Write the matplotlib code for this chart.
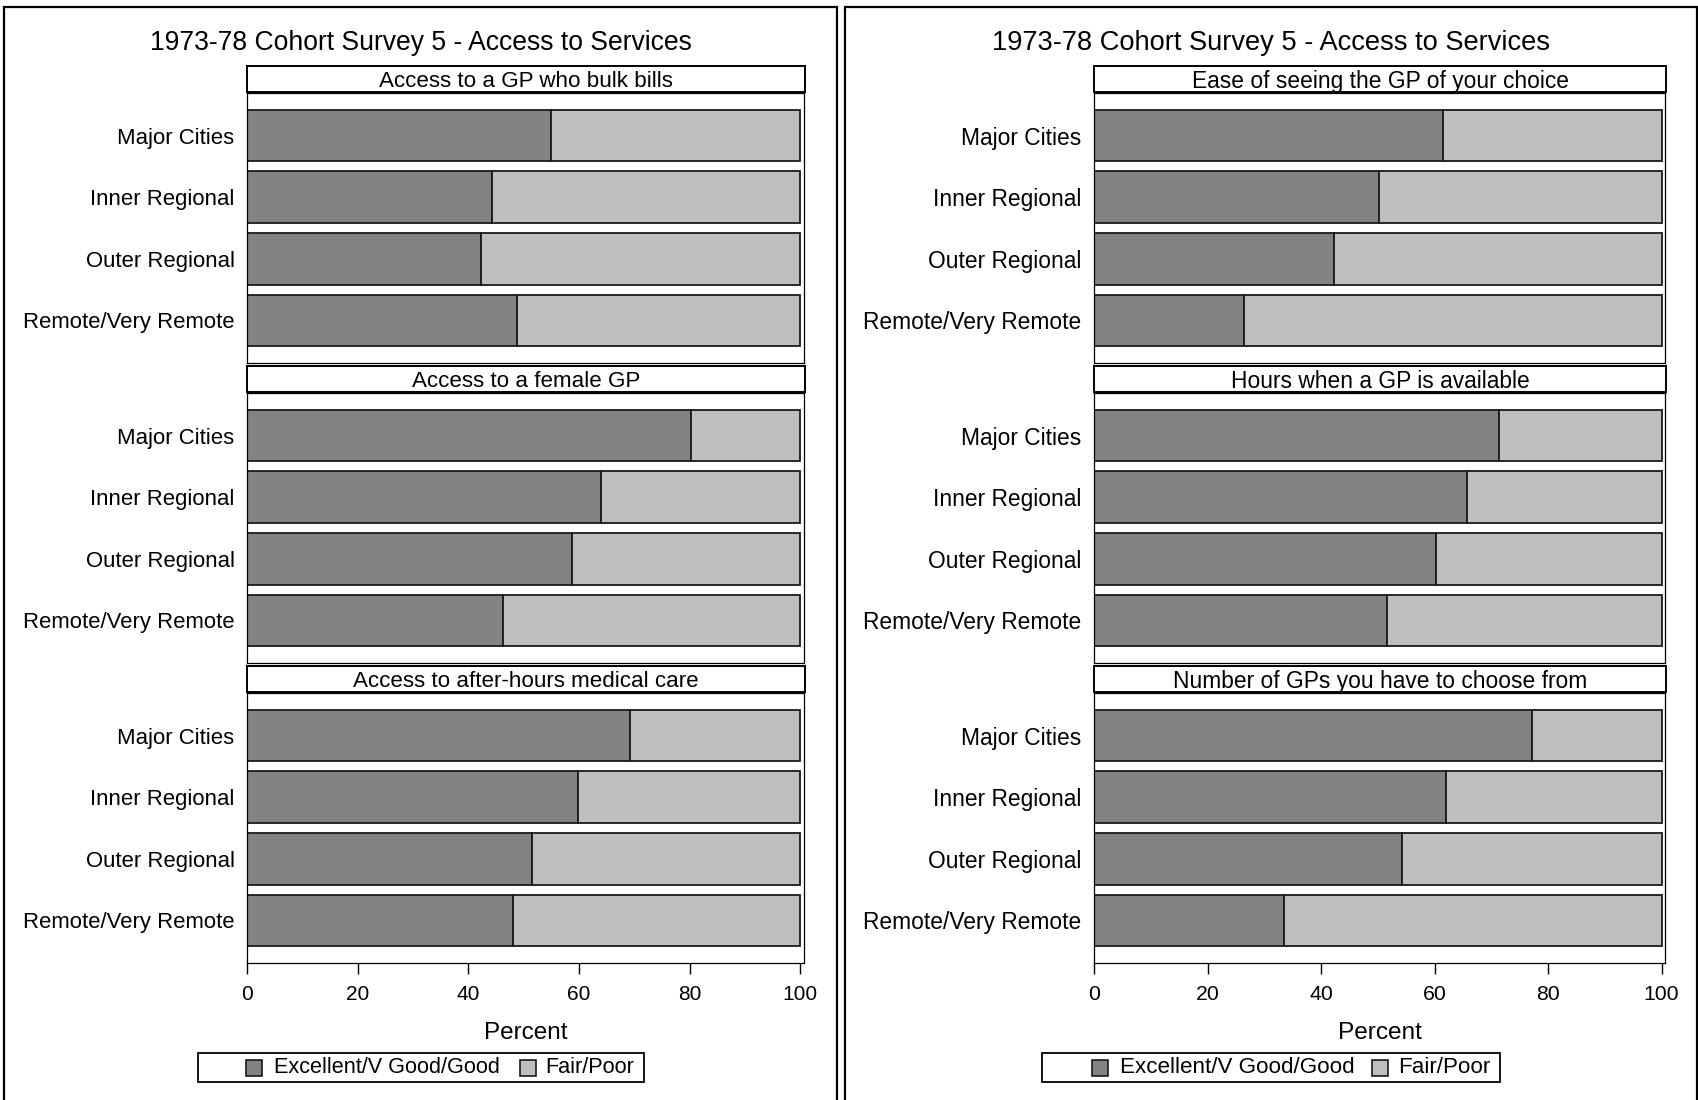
import matplotlib
matplotlib.use("Agg")
import matplotlib.pyplot as plt
from matplotlib.patches import Rectangle
import numpy as np

plt.rcParams['font.family'] = ['Liberation Sans', 'DejaVu Sans']

# ---------------- data ----------------
regions = ["Major Cities", "Inner Regional", "Outer Regional", "Remote/Very Remote"]
series_names = ["Excellent/V Good/Good", "Fair/Poor"]
main_title = "1973-78 Cohort Survey 5 - Access to Services"
x_ticks = [0, 20, 40, 60, 80, 100]
x_label = "Percent"

left_titles = ["Access to a GP who bulk bills",
               "Access to a female GP",
               "Access to after-hours medical care"]
right_titles = ["Ease of seeing the GP of your choice",
                "Hours when a GP is available",
                "Number of GPs you have to choose from"]

bulk_bills_good = [55.0, 44.3, 42.3, 48.8]
bulk_bills_fair = [45.0, 55.7, 57.7, 51.2]
female_gp_good = [80.3, 64.0, 58.7, 46.3]
female_gp_fair = [19.7, 36.0, 41.3, 53.7]
after_hours_good = [69.2, 59.8, 51.6, 48.0]
after_hours_fair = [30.8, 40.2, 48.4, 52.0]

gp_choice_good = [61.5, 50.2, 42.2, 26.5]
gp_choice_fair = [38.5, 49.8, 57.8, 73.5]
gp_hours_good = [71.4, 65.7, 60.2, 51.7]
gp_hours_fair = [28.6, 34.3, 39.8, 48.3]
num_gps_good = [77.2, 62.0, 54.3, 33.4]
num_gps_fair = [22.8, 38.0, 45.7, 66.6]

left_data = [(bulk_bills_good, bulk_bills_fair),
             (female_gp_good, female_gp_fair),
             (after_hours_good, after_hours_fair)]
right_data = [(gp_choice_good, gp_choice_fair),
              (gp_hours_good, gp_hours_fair),
              (num_gps_good, num_gps_fair)]

# ---------------- style ----------------
W, H = 1698, 1100
DARK = "#838383"
LIGHT = "#bebebe"
EDGE = "#1a1a1a"

fig = plt.figure(figsize=(W / 100, H / 100), dpi=100)
fig.patch.set_facecolor("white")


def fbox(x0, y_top, x1, y_bot):
    return [x0 / W, 1 - y_bot / H, (x1 - x0) / W, (y_bot - y_top) / H]


def fx(x):
    return x / W


def fy(y):
    return 1 - y / H


strip_tops = [66, 366, 666]
STRIP_H = 26
PLOT_H = 270

panels = [
    dict(frame=(4, 837), plot_x=(247, 803.5), titles=left_titles, data=left_data,
         fs=dict(title=19.1, strip=16.1, cat=15.9, tick=15.0, xlab=17.5, leg=15.6),
         leg=dict(width=446, sq1=48, t1=76, sq2=322, t2=348)),
    dict(frame=(845, 1697), plot_x=(1094, 1665), titles=right_titles, data=right_data,
         fs=dict(title=19.6, strip=16.4, cat=16.4, tick=15.3, xlab=17.6, leg=16.1),
         leg=dict(width=458, sq1=50, t1=78, sq2=330, t2=356)),
]

ypos = np.arange(len(regions))

for p in panels:
    fs = p["fs"]
    fl, fr = p["frame"]
    # outer frame (extends below image bottom)
    fig.add_artist(Rectangle((fx(fl), fy(1110)), fx(fr) - fx(fl), fy(6.5) - fy(1110),
                             transform=fig.transFigure, fill=False,
                             edgecolor="black", linewidth=1.6))
    cx = (fl + fr) / 2
    fig.text(fx(cx), fy(43.5), main_title, ha="center", va="center", fontsize=fs["title"])

    px0, px1 = p["plot_x"]
    for i, (title, (good, fair)) in enumerate(zip(p["titles"], p["data"])):
        st = strip_tops[i]
        sax = fig.add_axes(fbox(px0, st, px1 + 1, st + STRIP_H))
        sax.set_xticks([])
        sax.set_yticks([])
        for s in sax.spines.values():
            s.set_linewidth(1.4)
        sax.text(0.5, 0.41, title, ha="center", va="center", fontsize=fs["strip"],
                 transform=sax.transAxes)

        ax = fig.add_axes(fbox(px0, st + STRIP_H + 1, px1, st + STRIP_H + 1 + PLOT_H))
        ax.barh(ypos, good, height=0.84, color=DARK, edgecolor=EDGE, linewidth=1.3)
        ax.barh(ypos, fair, left=good, height=0.84, color=LIGHT, edgecolor=EDGE, linewidth=1.3)
        ax.set_xlim(0, 100.6)
        ax.set_ylim(3.69, -0.69)
        ax.set_yticks(ypos)
        ax.set_yticklabels(regions, fontsize=fs["cat"])
        ax.tick_params(axis="y", length=0, pad=9)
        for s in ax.spines.values():
            s.set_linewidth(0.9)
        if i == 2:
            ax.set_xticks(x_ticks)
            ax.set_xticklabels([str(t) for t in x_ticks], fontsize=fs["tick"])
            ax.tick_params(axis="x", length=8, width=1.0, pad=7.5)
            ax.set_xlabel(x_label, fontsize=fs["xlab"], labelpad=13)
        else:
            ax.set_xticks([])

    # legend drawn in figure pixel space
    lg = p["leg"]
    lx0 = cx - lg["width"] / 2
    ly0, ly1 = 1053, 1082
    fig.add_artist(Rectangle((fx(lx0), fy(ly1)), fx(lg["width"]), fy(ly0) - fy(ly1),
                             transform=fig.transFigure, fill=True, facecolor="white",
                             edgecolor="black", linewidth=1.3))
    ymid = (ly0 + ly1) / 2
    sq = 16
    for (sx, tx), col, name in zip([(lx0 + lg["sq1"], lx0 + lg["t1"]),
                                    (lx0 + lg["sq2"], lx0 + lg["t2"])],
                                   [DARK, LIGHT], series_names):
        fig.add_artist(Rectangle((fx(sx), fy(ymid + sq / 2)), fx(sq), fy(ymid - sq / 2) - fy(ymid + sq / 2),
                                 transform=fig.transFigure, facecolor=col,
                                 edgecolor=EDGE, linewidth=1.2))
        fig.text(fx(tx), fy(ymid), name, ha="left", va="center", fontsize=fs["leg"])

fig.savefig("out.png", dpi=100)
